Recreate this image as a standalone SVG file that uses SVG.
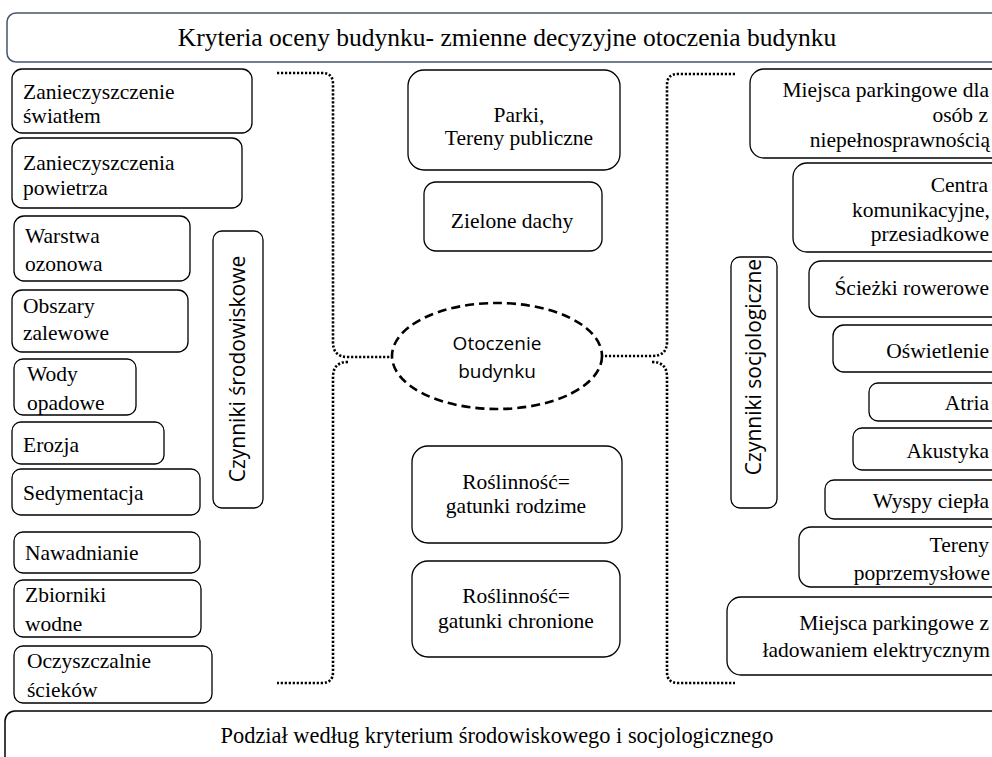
<svg xmlns="http://www.w3.org/2000/svg" width="992" height="757" viewBox="0 0 992 757">
  <style>
    .box { fill: #ffffff; stroke: #000000; stroke-width: 1.3; }
    .banner { fill: #ffffff; stroke-width: 1.5; }
    .t { font-family: "Liberation Serif", "Times New Roman", serif; font-size: 21.5px; fill: #000000; }
    .tl { text-anchor: start; }
    .tc { text-anchor: middle; }
    .tr { text-anchor: end; }
    .s { font-family: "Open Sans", "Noto Sans", sans-serif; font-size: 21px; fill: #000000; text-anchor: middle; }
    .dot { fill: none; stroke: #000000; stroke-width: 2.6; stroke-dasharray: 2.2 1.8; }
    .dash { fill: #ffffff; stroke: #000000; stroke-width: 2.6; stroke-dasharray: 9 5; }
  </style>

  <rect width="992" height="757" fill="#ffffff"/>

  <!-- header and footer banners -->
  <g id="header">
    <rect class="banner" x="7" y="13" width="1000" height="49" rx="9" stroke="#44546a"/>
    <text class="t tc" x="507" y="46" style="font-size:25.5px">Kryteria oceny budynku- zmienne decyzyjne otoczenia budynku</text>
  </g>
  <g id="footer">
    <rect class="banner" x="5" y="711" width="1000" height="80" rx="10" stroke="#000000"/>
    <text class="t tc" x="497" y="743" style="font-size:22.4px">Podział według kryterium środowiskowego i socjologicznego</text>
  </g>

  <!-- brackets linking the groups to the centre -->
  <g id="connectors">
    <path class="dot" d="M277,73 L322,73 Q333,73 333,84 L333,342 Q333,357 348,357 L392,357"/>
    <path class="dot" d="M348,362 Q333,362 333,377 L333,672 Q333,683 322,683 L277,683"/>
    <path class="dot" d="M735,74 L678,74 Q667,74 667,85 L667,342 Q667,356 652,356 L602,356"/>
    <path class="dot" d="M652,362 Q667,362 667,377 L667,672 Q667,683 678,683 L735,683"/>
  </g>

  <!-- centre -->
  <g id="otoczenie">
    <ellipse class="dash" cx="497" cy="356" rx="105" ry="53"/>
    <text class="s" x="497" y="350" style="font-size:19px">Otoczenie</text>
    <text class="s" x="497" y="378" style="font-size:19px">budynku</text>
  </g>

  <!-- environmental factors -->
  <g id="czynniki-srodowiskowe">
    <rect class="box" x="213" y="231" width="50" height="277" rx="9"/>
    <text class="s" transform="translate(245,369) rotate(-90)">Czynniki środowiskowe</text>
  </g>
  <g id="zanieczyszczenie-swiatlem">
    <rect class="box" x="12" y="69" width="240" height="64" rx="10"/>
    <text class="t tl" x="23" y="99">Zanieczyszczenie</text>
    <text class="t tl" x="23" y="123">światłem</text>
  </g>
  <g id="zanieczyszczenia-powietrza">
    <rect class="box" x="12" y="138" width="230" height="70" rx="10"/>
    <text class="t tl" x="23" y="170">Zanieczyszczenia</text>
    <text class="t tl" x="23" y="195">powietrza</text>
  </g>
  <g id="warstwa-ozonowa">
    <rect class="box" x="14" y="216" width="176" height="65" rx="10"/>
    <text class="t tl" x="25" y="243">Warstwa</text>
    <text class="t tl" x="25" y="271">ozonowa</text>
  </g>
  <g id="obszary-zalewowe">
    <rect class="box" x="12" y="290" width="176" height="62" rx="10"/>
    <text class="t tl" x="23" y="313">Obszary</text>
    <text class="t tl" x="23" y="340">zalewowe</text>
  </g>
  <g id="wody-opadowe">
    <rect class="box" x="14" y="359" width="122" height="56" rx="9"/>
    <text class="t tl" x="27" y="381">Wody</text>
    <text class="t tl" x="27" y="410">opadowe</text>
  </g>
  <g id="erozja">
    <rect class="box" x="12" y="422" width="152" height="42" rx="9"/>
    <text class="t tl" x="23" y="452">Erozja</text>
  </g>
  <g id="sedymentacja">
    <rect class="box" x="12" y="469" width="188" height="46" rx="9"/>
    <text class="t tl" x="23" y="500">Sedymentacja</text>
  </g>
  <g id="nawadnianie">
    <rect class="box" x="14" y="532" width="186" height="41" rx="9"/>
    <text class="t tl" x="25" y="560">Nawadnianie</text>
  </g>
  <g id="zbiorniki-wodne">
    <rect class="box" x="14" y="580" width="187" height="57" rx="9"/>
    <text class="t tl" x="25" y="602">Zbiorniki</text>
    <text class="t tl" x="25" y="631">wodne</text>
  </g>
  <g id="oczyszczalnie-sciekow">
    <rect class="box" x="14" y="646" width="198" height="57" rx="9"/>
    <text class="t tl" x="27" y="668">Oczyszczalnie</text>
    <text class="t tl" x="27" y="697">ścieków</text>
  </g>

  <!-- green areas -->
  <g id="parki">
    <rect class="box" x="408" y="70" width="212" height="100" rx="16"/>
    <text class="t tc" x="519" y="122">Parki,</text>
    <text class="t tc" x="519" y="145">Tereny publiczne</text>
  </g>
  <g id="zielone-dachy">
    <rect class="box" x="424" y="182" width="178" height="69" rx="12"/>
    <text class="t tc" x="512" y="228">Zielone dachy</text>
  </g>
  <g id="roslinnosc-rodzime">
    <rect class="box" x="412" y="446" width="210" height="97" rx="16"/>
    <text class="t tc" x="516" y="489">Roślinność=</text>
    <text class="t tc" x="516" y="513">gatunki rodzime</text>
  </g>
  <g id="roslinnosc-chronione">
    <rect class="box" x="412" y="561" width="208" height="96" rx="16"/>
    <text class="t tc" x="516" y="603">Roślinność=</text>
    <text class="t tc" x="516" y="628">gatunki chronione</text>
  </g>

  <!-- sociological factors -->
  <g id="czynniki-socjologiczne">
    <rect class="box" x="731" y="257" width="46" height="251" rx="9"/>
    <text class="s" transform="translate(761,367) rotate(-90)">Czynniki socjologiczne</text>
  </g>
  <g id="parking-niepelnosprawni">
    <rect class="box" x="750" y="69" width="260" height="89" rx="14"/>
    <text class="t tr" x="989" y="97">Miejsca parkingowe dla</text>
    <text class="t tr" x="988" y="122">osób z</text>
    <text class="t tr" x="990" y="147">niepełnosprawnością</text>
  </g>
  <g id="centra-komunikacyjne">
    <rect class="box" x="793" y="163" width="220" height="89" rx="14"/>
    <text class="t tr" x="988" y="192">Centra</text>
    <text class="t tr" x="990" y="217">komunikacyjne,</text>
    <text class="t tr" x="989" y="241">przesiadkowe</text>
  </g>
  <g id="sciezki-rowerowe">
    <rect class="box" x="809" y="261" width="200" height="56" rx="12"/>
    <text class="t tr" x="989" y="295">Ścieżki rowerowe</text>
  </g>
  <g id="oswietlenie">
    <rect class="box" x="833" y="325" width="180" height="47" rx="11"/>
    <text class="t tr" x="989" y="358">Oświetlenie</text>
  </g>
  <g id="atria">
    <rect class="box" x="869" y="383" width="140" height="38" rx="9"/>
    <text class="t tr" x="989" y="410">Atria</text>
  </g>
  <g id="akustyka">
    <rect class="box" x="853" y="428" width="160" height="42" rx="9"/>
    <text class="t tr" x="989" y="458">Akustyka</text>
  </g>
  <g id="wyspy-ciepla">
    <rect class="box" x="825" y="480" width="190" height="39" rx="9"/>
    <text class="t tr" x="989" y="508">Wyspy ciepła</text>
  </g>
  <g id="tereny-poprzemyslowe">
    <rect class="box" x="799" y="527" width="210" height="60" rx="12"/>
    <text class="t tr" x="989" y="552">Tereny</text>
    <text class="t tr" x="990" y="580">poprzemysłowe</text>
  </g>
  <g id="parking-ladowanie">
    <rect class="box" x="727" y="597" width="280" height="78" rx="14"/>
    <text class="t tr" x="989" y="630">Miejsca parkingowe z</text>
    <text class="t tr" x="990" y="657">ładowaniem elektrycznym</text>
  </g>
</svg>
